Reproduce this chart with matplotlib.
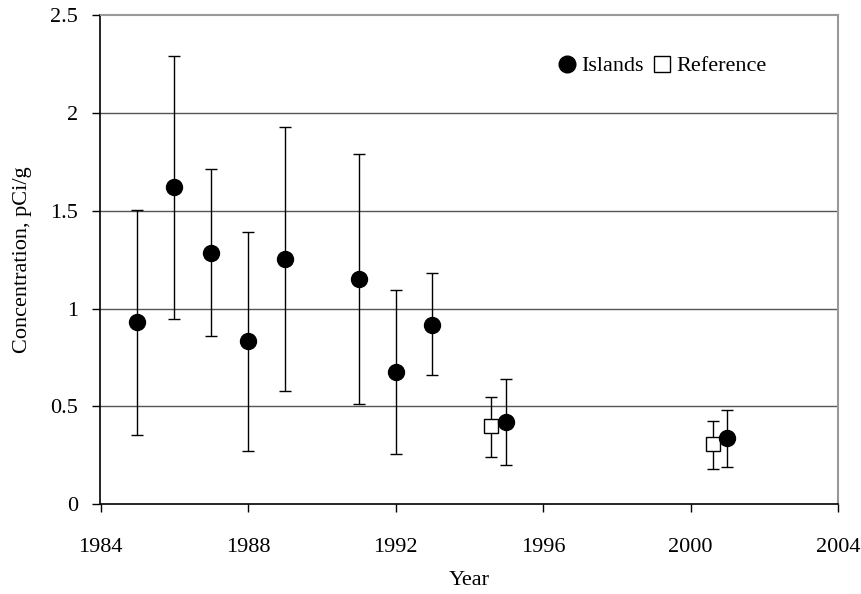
import matplotlib
matplotlib.use("Agg")
import matplotlib.pyplot as plt
from matplotlib.lines import Line2D

plt.rcParams['font.family'] = ['Liberation Serif', 'DejaVu Serif']

# Islands series
isl_year = [1985, 1986, 1987, 1988, 1989, 1991, 1992, 1993, 1995, 2001]
isl_val = [0.93, 1.62, 1.285, 0.834, 1.254, 1.151, 0.676, 0.917, 0.420, 0.337]
isl_lo = [0.354, 0.948, 0.858, 0.271, 0.579, 0.512, 0.257, 0.662, 0.202, 0.189]
isl_hi = [1.502, 2.29, 1.714, 1.391, 1.930, 1.788, 1.096, 1.180, 0.638, 0.482]

# Reference series
ref_year = [1994.6, 2000.6]
ref_val = [0.400, 0.310]
ref_lo = [0.240, 0.180]
ref_hi = [0.550, 0.427]

xticks = [1984, 1988, 1992, 1996, 2000, 2004]
yticks = [0, 0.5, 1, 1.5, 2, 2.5]
yticklabels = ['0', '0.5', '1', '1.5', '2', '2.5']

fig = plt.figure(figsize=(8.62, 5.94), dpi=100)
ax = fig.add_axes([100.5/862, 1-504.3/594, (838-100.5)/862, (504.3-15)/594])

for y in yticks[1:-1]:
    ax.axhline(y, color='#555555', lw=1.0, zorder=1)

isl_err = [[v - l for v, l in zip(isl_val, isl_lo)], [h - v for v, h in zip(isl_val, isl_hi)]]
ref_err = [[v - l for v, l in zip(ref_val, ref_lo)], [h - v for v, h in zip(ref_val, ref_hi)]]

ax.errorbar(ref_year, ref_val, yerr=ref_err, fmt='s', ms=10.5, mfc='white', mec='black',
            mew=1.0, ecolor='black', elinewidth=1.0, capsize=4.2, capthick=1.0, zorder=3)
ax.errorbar(isl_year, isl_val, yerr=isl_err, fmt='o', ms=11.5, mfc='black', mec='black',
            ecolor='black', elinewidth=1.0, capsize=4.2, capthick=1.0, zorder=4)

ax.set_xlim(1984, 2004)
ax.set_ylim(0, 2.5)
ax.set_xticks(xticks)
ax.set_yticks(yticks)
ax.set_yticklabels(yticklabels)
ax.tick_params(direction='out', length=6, width=1, labelsize=16, colors='black', pad=10)
ax.tick_params(axis='x', pad=18)

for s in ['top', 'right']:
    ax.spines[s].set_color('#999999')
    ax.spines[s].set_linewidth(1.5)
for s in ['left', 'bottom']:
    ax.spines[s].set_color('black')
    ax.spines[s].set_linewidth(1.2)

ax.set_xlabel('Year', fontsize=16, labelpad=10)
ax.set_ylabel('Concentration, pCi/g', fontsize=16, labelpad=13)

handles = [
    Line2D([], [], marker='o', ls='none', ms=12, mfc='black', mec='black'),
    Line2D([], [], marker='s', ls='none', ms=11, mfc='white', mec='black', mew=1.0),
]
ax.legend(handles, ['Islands', 'Reference'], ncol=2, frameon=False, fontsize=16,
          loc='center', bbox_to_anchor=((661-100.5)/737.5, (504.3-66)/489.3),
          handletextpad=0.15, columnspacing=0.3, handlelength=1.0, borderpad=0)

fig.savefig('out.png', dpi=100)
